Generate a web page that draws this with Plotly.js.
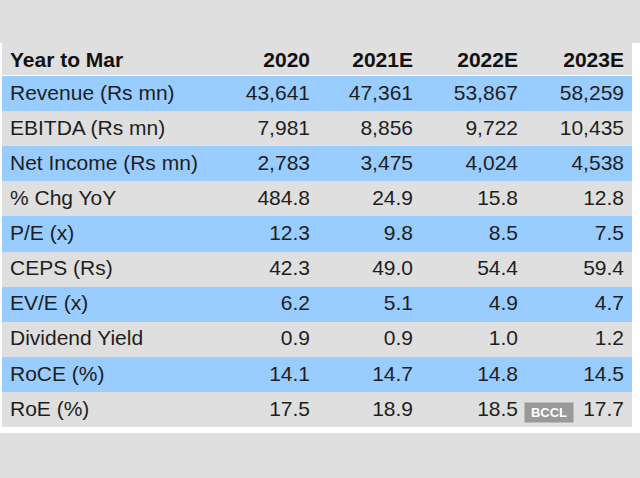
<!DOCTYPE html>
<html>
<head>
<meta charset="utf-8">
<script src="https://cdn.plot.ly/plotly-3.0.1.min.js"></script>
<style>html,body{margin:0;padding:0;background:#dfdfdf;}#chart{width:640px;height:478px;}</style>
</head>
<body>
<div id="chart"></div>
<script>
var headerLabel = "Year to Mar";
var years = ["2020", "2021E", "2022E", "2023E"];
var rowLabels = ["Revenue (Rs mn)", "EBITDA (Rs mn)", "Net Income (Rs mn)", "% Chg YoY", "P/E (x)", "CEPS (Rs)", "EV/E (x)", "Dividend Yield", "RoCE (%)", "RoE (%)"];
var revenue = [43641, 47361, 53867, 58259];
var ebitda = [7981, 8856, 9722, 10435];
var netIncome = [2783, 3475, 4024, 4538];
var chgYoY = [484.8, 24.9, 15.8, 12.8];
var pe = [12.3, 9.8, 8.5, 7.5];
var ceps = [42.3, 49.0, 54.4, 59.4];
var eve = [6.2, 5.1, 4.9, 4.7];
var divYield = [0.9, 0.9, 1.0, 1.2];
var roce = [14.1, 14.7, 14.8, 14.5];
var roe = [17.5, 18.9, 18.5, 17.7];

function fmtInt(v){ return v.toLocaleString('en-US'); }
function fmt1(v){ return v.toFixed(1); }
var rows = [
  revenue.map(fmtInt), ebitda.map(fmtInt), netIncome.map(fmtInt),
  chgYoY.map(fmt1), pe.map(fmt1), ceps.map(fmt1), eve.map(fmt1),
  divYield.map(fmt1), roce.map(fmt1), roe.map(fmt1)
];
var columns = [rowLabels];
for (var c = 0; c < years.length; c++) {
  columns.push(rows.map(function(r){ return r[c]; }));
}
var BLUE = "#99ccff", GRAY = "#dfdfdf", CLEAR = "rgba(0,0,0,0)";
var rowFill = rowLabels.map(function(_, i){ return i % 2 === 0 ? BLUE : GRAY; });
var fills = columns.map(function(){ return rowFill; });
var FONT = "Liberation Sans, Arial, sans-serif";
var ALIGN = ["left", "right", "right", "right", "right"];
var CW = [218, 98, 103, 105, 106];
var HIDDEN_HEADER = {values: [], height: 0, fill: {color: CLEAR}, line: {color: CLEAR, width: 0}};
var OFF = 16;

var W = 640, H = 478;
var headerTrace = {
  type: "table",
  domain: {x: [2 / W, 632 / W], y: [1 - 76 / H, 1 - (40 - OFF) / H]},
  columnwidth: CW,
  header: HIDDEN_HEADER,
  cells: {
    values: [["<b>" + headerLabel + "</b>"]].concat(years.map(function(y){ return ["<b>" + y + "</b>"]; })),
    align: ALIGN,
    height: 36,
    fill: {color: GRAY},
    line: {color: GRAY, width: 0},
    font: {family: FONT, size: 21, color: "#111"}
  }
};
var bodyTrace = {
  type: "table",
  domain: {x: [2 / W, 632 / W], y: [1 - 427 / H, 1 - (76 - OFF) / H]},
  columnwidth: CW,
  header: HIDDEN_HEADER,
  cells: {
    values: columns,
    align: ALIGN,
    height: 35.1,
    fill: {color: fills},
    line: {color: fills, width: 0},
    font: {family: FONT, size: 21, color: "#1e1e1e"}
  }
};
var layout = {
  width: W, height: H,
  margin: {l: 0, r: 0, t: 0, b: 0},
  paper_bgcolor: "#dfdfdf",
  shapes: [{type: "rect", xref: "paper", yref: "paper", x0: 0, x1: 1, y0: 1 - 433 / H, y1: 1 - 43 / H,
            fillcolor: "#ffffff", line: {width: 0}, layer: "below"}],
  annotations: [{xref: "paper", yref: "paper", x: 548.5 / W, y: 1 - 412.5 / H, xanchor: "center", yanchor: "middle",
                 text: "<b>BCCL</b>", showarrow: false, bgcolor: "#999999", width: 46, height: 17,
                 font: {family: FONT, size: 13, color: "#ffffff"}}]
};
Plotly.newPlot("chart", [headerTrace, bodyTrace], layout, {displayModeBar: false, staticPlot: true});
</script>
</body>
</html>
